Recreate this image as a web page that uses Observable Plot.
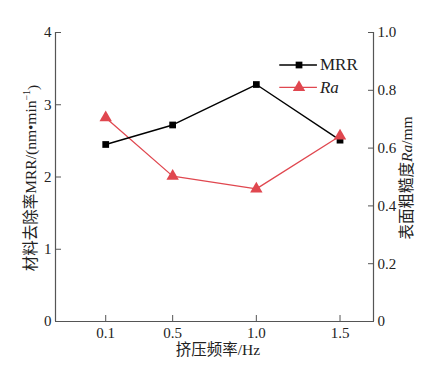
<!DOCTYPE html>
<html>
<head>
<meta charset="utf-8">
<script src="https://cdn.jsdelivr.net/npm/d3@7"></script>
<script src="https://cdn.jsdelivr.net/npm/@observablehq/plot@0.6"></script>
<style>
  html, body { margin: 0; padding: 0; background: #fff; }
  #chart svg { display: block; }
</style>
</head>
<body>
<div id="chart"></div>
<script>
const freq = [0.1, 0.5, 1.0, 1.5];
const mrr = [2.45, 2.72, 3.28, 2.51];
const ra = [0.705, 0.503, 0.459, 0.642];
const xTicks = [0.1, 0.5, 1.0, 1.5];
const leftTicks = [0, 1, 2, 3, 4];
const rightTicks = [0, 0.2, 0.4, 0.6, 0.8, 1.0];
const legendItems = ["MRR", "Ra"];

const RA_SCALE = 4; // right axis 0..1 maps to left axis 0..4
const red = "#e0474f";
const axisColor = "#555";
const font = "'Liberation Serif', 'Noto Sans CJK SC', serif";

const mrrData = freq.map((f, i) => ({x: f, y: mrr[i]}));
const raData = freq.map((f, i) => ({x: f, y: ra[i] * RA_SCALE}));

// legend in data coordinates
const legX1 = 1.14, legX2 = 1.365, legXm = 1.255, legTx = 1.38;
const legY = [3.55, 3.24];
const legMRR = [{name: legendItems[0], y: legY[0]}];
const legRa = [{name: legendItems[1], y: legY[1]}];

const plot = Plot.plot({
  width: 438,
  height: 377,
  marginLeft: 55,
  marginRight: 65,
  marginTop: 32,
  marginBottom: 56,
  style: {fontFamily: font, fontSize: "14px", color: "#222", background: "#fff"},
  x: {domain: [-0.2, 1.7]},
  y: {domain: [0, 4]},
  marks: [
    Plot.ruleX([-0.2, 1.7], {stroke: axisColor, strokeWidth: 1.2}),
    Plot.ruleY([0], {stroke: axisColor, strokeWidth: 1.2}),
    Plot.axisY(leftTicks, {anchor: "left", tickSize: -6, tickPadding: 10, stroke: axisColor, tickFormat: d => String(d), fontSize: 15, label: null}),
    Plot.axisY(rightTicks.map(v => v * RA_SCALE), {anchor: "right", tickSize: -6, tickPadding: 10, stroke: axisColor, tickFormat: d => d === 0 ? "0" : (d / RA_SCALE).toFixed(1), fontSize: 15, label: null}),
    Plot.axisX(xTicks, {anchor: "bottom", tickSize: -6, tickPadding: 12, stroke: axisColor, tickFormat: d => d.toFixed(1), fontSize: 15, label: null}),
    Plot.line(raData, {x: "x", y: "y", stroke: red, strokeWidth: 1.3}),
    Plot.line(mrrData, {x: "x", y: "y", stroke: "#000", strokeWidth: 1.4}),
    Plot.dot(mrrData, {x: "x", y: "y", symbol: "square", r: 3.8, fill: "#000"}),
    Plot.dot(raData, {x: "x", y: "y", symbol: "triangle", r: 4.6, fill: red}),
    // legend
    Plot.ruleY(legMRR, {y: "y", x1: legX1, x2: legX2, stroke: "#000", strokeWidth: 1.4}),
    Plot.ruleY(legRa, {y: "y", x1: legX1, x2: legX2, stroke: red, strokeWidth: 1.3}),
    Plot.dot(legMRR, {x: legXm, y: "y", symbol: "square", r: 3.8, fill: "#000"}),
    Plot.dot(legRa, {x: legXm, y: "y", symbol: "triangle", r: 4.6, fill: red}),
    Plot.text(legMRR, {x: legTx, y: "y", text: "name", textAnchor: "start", fontSize: 17, fill: "#222"}),
    Plot.text(legRa, {x: legTx, y: "y", text: "name", textAnchor: "start", fontSize: 17, fill: "#222", fontStyle: "italic"})
  ]
});

// axis titles
const svg = d3.select(plot);
svg.append("text")
  .attr("transform", "translate(32,178) rotate(-90)")
  .attr("text-anchor", "middle").attr("dominant-baseline", "middle")
  .style("font-family", font).style("font-size", "15.5px").attr("fill", "#222")
  .call(t => {
    t.append("tspan").text("材料去除率MRR/(nm•min");
    t.append("tspan").text("−1").attr("dy", "-0.45em").style("font-size", "10px");
    t.append("tspan").text(")").attr("dy", "0.45em");
  });
svg.append("text")
  .attr("transform", "translate(408,178) rotate(-90)")
  .attr("text-anchor", "middle").attr("dominant-baseline", "middle")
  .style("font-family", font).style("font-size", "15.5px").attr("fill", "#222")
  .call(t => {
    t.append("tspan").text("表面粗糙度");
    t.append("tspan").text("Ra").style("font-style", "italic");
    t.append("tspan").text("/mm");
  });
svg.append("text")
  .attr("x", 218).attr("y", 351)
  .attr("text-anchor", "middle").attr("dominant-baseline", "middle")
  .style("font-family", font).style("font-size", "15.5px").attr("fill", "#222")
  .text("挤压频率/Hz");

document.getElementById("chart").appendChild(plot);
</script>
</body>
</html>
